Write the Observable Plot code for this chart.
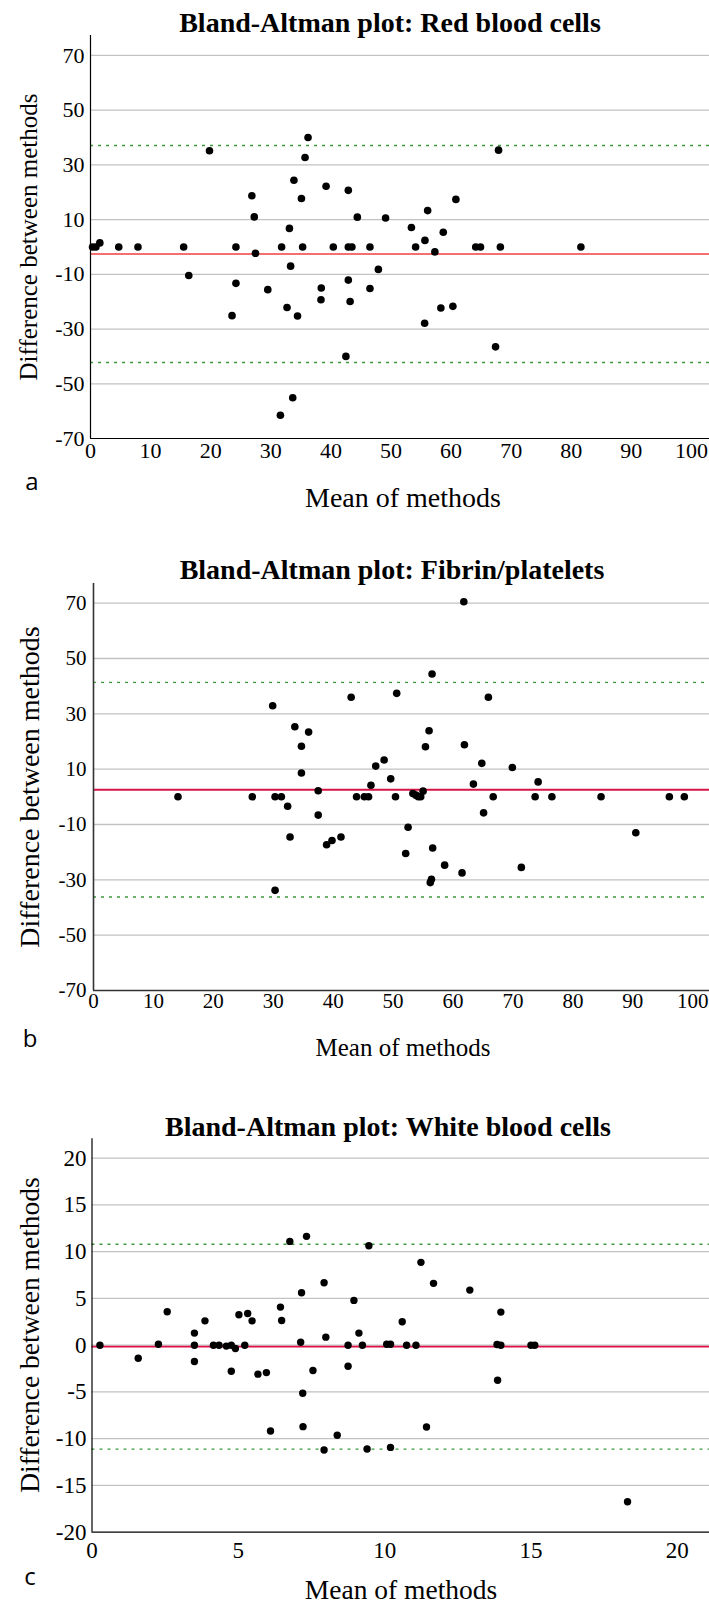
<!DOCTYPE html>
<html>
<head>
<meta charset="utf-8">
<script src="https://cdn.jsdelivr.net/npm/d3@7"></script>
<script src="https://cdn.jsdelivr.net/npm/@observablehq/plot@0.6"></script>
<style>
  html, body { margin: 0; padding: 0; background: #fff; }
  #wrap { position: relative; width: 709px; height: 1604px; overflow: hidden; }
  .abs { position: absolute; white-space: nowrap; line-height: 1; transform: translate(-50%, -50%); color: #000; }
  .title { font-family: 'Liberation Serif', serif; font-weight: bold; font-size: 28px; }
  .lab { font-family: 'Liberation Serif', serif; font-weight: normal; }
  .ylab { transform: translate(-50%, -50%) rotate(-90deg); }
  .letter { font-family: 'Open Sans', 'DejaVu Sans', sans-serif; font-size: 24px; }
  svg { position: absolute; left: 0; overflow: visible; }
</style>
</head>
<body>
<div id="wrap"></div>
<script>
// ---------- Data ----------
// Panel a: Red blood cells
const rbcMean = [0.34,0.9,1.55,4.7,7.9,15.5,16.35,19.8,23.55,24.2,24.2,26.85,27.25,27.45,29.5,31.6,31.8,32.7,33.1,33.3,33.65,33.85,34.45,35.1,35.3,35.7,36.2,38.4,38.35,39.2,40.4,42.5,42.9,42.9,42.9,43.2,43.5,44.4,46.5,46.5,47.9,49.1,53.4,54.1,55.6,55.65,56.1,57.3,58.3,58.7,60.3,60.8,64.1,64.9,67.4,67.9,68.2,81.6];
const rbcDiff = [0,0,1.5,0,0,0,-10.4,35.2,-25.1,0,-13.3,18.7,11.0,-2.3,-15.6,-61.5,0,-22.1,6.8,-7.0,-55.1,24.4,-25.2,17.7,0,32.7,40.0,-15.0,-19.3,22.2,0,-40.0,20.7,-12.1,0,-19.9,0,10.9,0,-15.2,-8.2,10.6,7.1,0,-27.9,2.4,13.3,-1.8,-22.3,5.4,-21.7,17.4,0,0,-36.5,35.4,0,0];
const rbcLines = {mean: -2.55, upper: 37.1, lower: -42.2};

// Panel b: Fibrin/platelets
const fibMean = [14.1,26.5,29.9,30.3,30.3,31.35,32.4,32.8,33.6,34.7,34.7,35.9,37.5,37.5,38.9,39.8,41.3,43.0,43.9,45.2,45.9,46.3,47.1,48.5,49.6,50.4,50.6,52.1,52.5,53.3,53.8,54.2,54.6,55.0,55.4,56.0,56.2,56.4,56.5,56.6,58.6,61.5,61.8,61.9,63.4,64.8,65.1,65.9,66.7,69.9,71.4,73.7,74.2,76.5,84.7,90.5,96.1,98.6];
const fibDiff = [0,0,32.9,0,-33.8,0,-3.4,-14.5,25.3,18.3,8.6,23.4,2.2,-6.6,-17.3,-15.8,-14.5,36.0,0,0,0,4.2,11.1,13.3,6.5,0,37.4,-20.5,-11.0,1.2,0.6,0,0,2.05,18.1,23.9,-31.0,-29.8,44.4,-18.5,-24.7,-27.5,70.5,18.8,4.6,12.1,-5.8,36.0,0,10.6,-25.5,0,5.4,0,0,-13.0,0,0];
const fibLines = {mean: 2.55, upper: 41.35, lower: -36.2};

// Panel c: White blood cells
const wbcMean = [0.27,1.58,2.27,2.57,3.5,3.5,3.5,3.86,4.15,4.34,4.59,4.76,4.76,4.9,5.02,5.22,5.32,5.47,5.67,5.96,6.1,6.44,6.48,6.76,7.13,7.16,7.2,7.21,7.33,7.55,7.93,7.93,7.99,8.38,8.75,8.75,8.95,9.12,9.24,9.4,9.46,10.07,10.2,10.2,10.6,10.75,11.07,11.24,11.43,11.67,12.91,13.84,13.86,13.97,13.97,15.0,15.13,18.3];
const wbcDiff = [0,-1.39,0.1,3.57,1.29,0,-1.75,2.6,0,0,-0.1,0,-2.79,-0.36,3.25,0,3.39,2.6,-3.1,-2.93,-9.18,4.07,2.64,11.1,0.32,5.6,-5.14,-8.71,11.64,-2.71,6.68,-11.21,0.86,-9.64,0,-2.25,4.79,1.29,0,-11.1,10.64,0.1,0.1,-10.93,2.5,0,0,8.86,-8.75,6.61,5.89,0.07,-3.75,3.54,0,0,0,-16.75];
const wbcLines = {mean: -0.15, upper: 10.8, lower: -11.12};

// Tick labels
const ticksYab = [70, 50, 30, 10, -10, -30, -50, -70];
const ticksXab = [0, 10, 20, 30, 40, 50, 60, 70, 80, 90, 100];
const ticksYc = [20, 15, 10, 5, 0, -5, -10, -15, -20];
const ticksXc = [0, 5, 10, 15, 20];

const titles = ["Bland-Altman plot: Red blood cells", "Bland-Altman plot: Fibrin/platelets", "Bland-Altman plot: White blood cells"];
const xLabel = "Mean of methods";
const yLabel = "Difference between methods";
const letters = ["a", "b", "c"];

// ---------- Drawing ----------
const wrap = document.getElementById("wrap");
const serif = "'Liberation Serif', serif";

function panel(cfg) {
  const data = cfg.xs.map((m, i) => ({mean: m, diff: cfg.ys[i]}));
  const ymin = cfg.ydomain[0], ymax = cfg.ydomain[1];
  const chart = Plot.plot({
    width: 709,
    height: cfg.height,
    marginLeft: cfg.marginLeft,
    marginRight: 0,
    marginTop: cfg.marginTop,
    marginBottom: cfg.marginBottom,
    x: {domain: cfg.xdomain},
    y: {domain: cfg.ydomain},
    style: {fontFamily: serif, fontSize: cfg.tickFont + "px", background: "transparent", color: "#000", overflow: "visible"},
    marks: [
      Plot.ruleY(cfg.grid, {stroke: "#c2c2c2", strokeWidth: 1.3}),
      Plot.ruleY([cfg.lines.upper, cfg.lines.lower], {stroke: "#3a9a3a", strokeWidth: 1.4, strokeDasharray: "3,5"}),
      Plot.ruleY([cfg.lines.mean], {stroke: cfg.meanColor, strokeWidth: cfg.meanWidth}),
      Plot.dot(data, {x: "mean", y: "diff", r: cfg.r, fill: "#000", stroke: "none"}),
      Plot.ruleX([0], {y1: ymin, y2: ymax, stroke: cfg.axisColor, strokeWidth: cfg.axisWidth}),
      Plot.ruleY([ymin], {stroke: cfg.axisColor, strokeWidth: cfg.axisWidth}),
      Plot.axisY(cfg.yticks, {tickSize: 0, tickPadding: cfg.yPad, label: null, tickFormat: d => String(d), fill: "#000", fontFamily: serif}),
      Plot.axisX(cfg.xticks, {tickSize: 0, tickPadding: cfg.xPad, label: null, tickFormat: d => String(d), fill: "#000", fontFamily: serif})
    ]
  });
  chart.style.top = cfg.top + "px";
  wrap.appendChild(chart);

  const add = (cls, text, x, y, size) => {
    const d = document.createElement("div");
    d.className = "abs " + cls;
    d.textContent = text;
    d.style.left = x + "px";
    d.style.top = y + "px";
    if (size) d.style.fontSize = size + "px";
    wrap.appendChild(d);
  };
  add("title", cfg.title, cfg.titlePos[0], cfg.titlePos[1]);
  add("lab ylab", yLabel, cfg.yLabPos[0], cfg.yLabPos[1], cfg.yLabSize);
  add("lab", xLabel, cfg.xLabPos[0], cfg.xLabPos[1], cfg.xLabSize);
  add("letter", cfg.letter, cfg.letterPos[0], cfg.letterPos[1]);
}

panel({
  xs: rbcMean, ys: rbcDiff, lines: rbcLines,
  top: 0, height: 470, marginTop: 35, marginBottom: 32, marginLeft: 90,
  xdomain: [0, 103], ydomain: [-70, 77.3],
  grid: [70, 50, 30, 10, -10, -30, -50], yticks: ticksYab, xticks: ticksXab,
  tickFont: 22, xPad: 4, yPad: 6, r: 3.8,
  meanColor: "#f04040", meanWidth: 1.4, axisColor: "#000", axisWidth: 1.2,
  title: titles[0], titlePos: [390, 23],
  yLabPos: [28, 237], yLabSize: 25,
  xLabPos: [403, 498], xLabSize: 28,
  letter: letters[0], letterPos: [32, 481]
});

panel({
  xs: fibMean, ys: fibDiff, lines: fibLines,
  top: 548, height: 472, marginTop: 35, marginBottom: 30, marginLeft: 93,
  xdomain: [0, 102.8], ydomain: [-70, 77.1],
  grid: [70, 50, 30, 10, -10, -30, -50], yticks: ticksYab, xticks: ticksXab,
  tickFont: 21, xPad: 3, yPad: 7, r: 3.8,
  meanColor: "#d81446", meanWidth: 1.8, axisColor: "#333", axisWidth: 1.6,
  title: titles[1], titlePos: [392, 570],
  yLabPos: [30, 787], yLabSize: 28,
  xLabPos: [403, 1047], xLabSize: 25,
  letter: letters[1], letterPos: [30, 1038]
});

panel({
  xs: wbcMean, ys: wbcDiff, lines: wbcLines,
  top: 1100, height: 462, marginTop: 38.3, marginBottom: 30.3, marginLeft: 91.5,
  xdomain: [0, 21.1], ydomain: [-20, 22.07],
  grid: [20, 15, 10, 5, 0, -5, -10, -15], yticks: ticksYc, xticks: ticksXc,
  tickFont: 23, xPad: 9, yPad: 5.5, r: 3.7,
  meanColor: "#e0104a", meanWidth: 1.8, axisColor: "#000", axisWidth: 1.2,
  title: titles[2], titlePos: [388, 1127],
  yLabPos: [30, 1335], yLabSize: 27.5,
  xLabPos: [401, 1590], xLabSize: 27.5,
  letter: letters[2], letterPos: [30, 1576]
});
</script>
</body>
</html>
